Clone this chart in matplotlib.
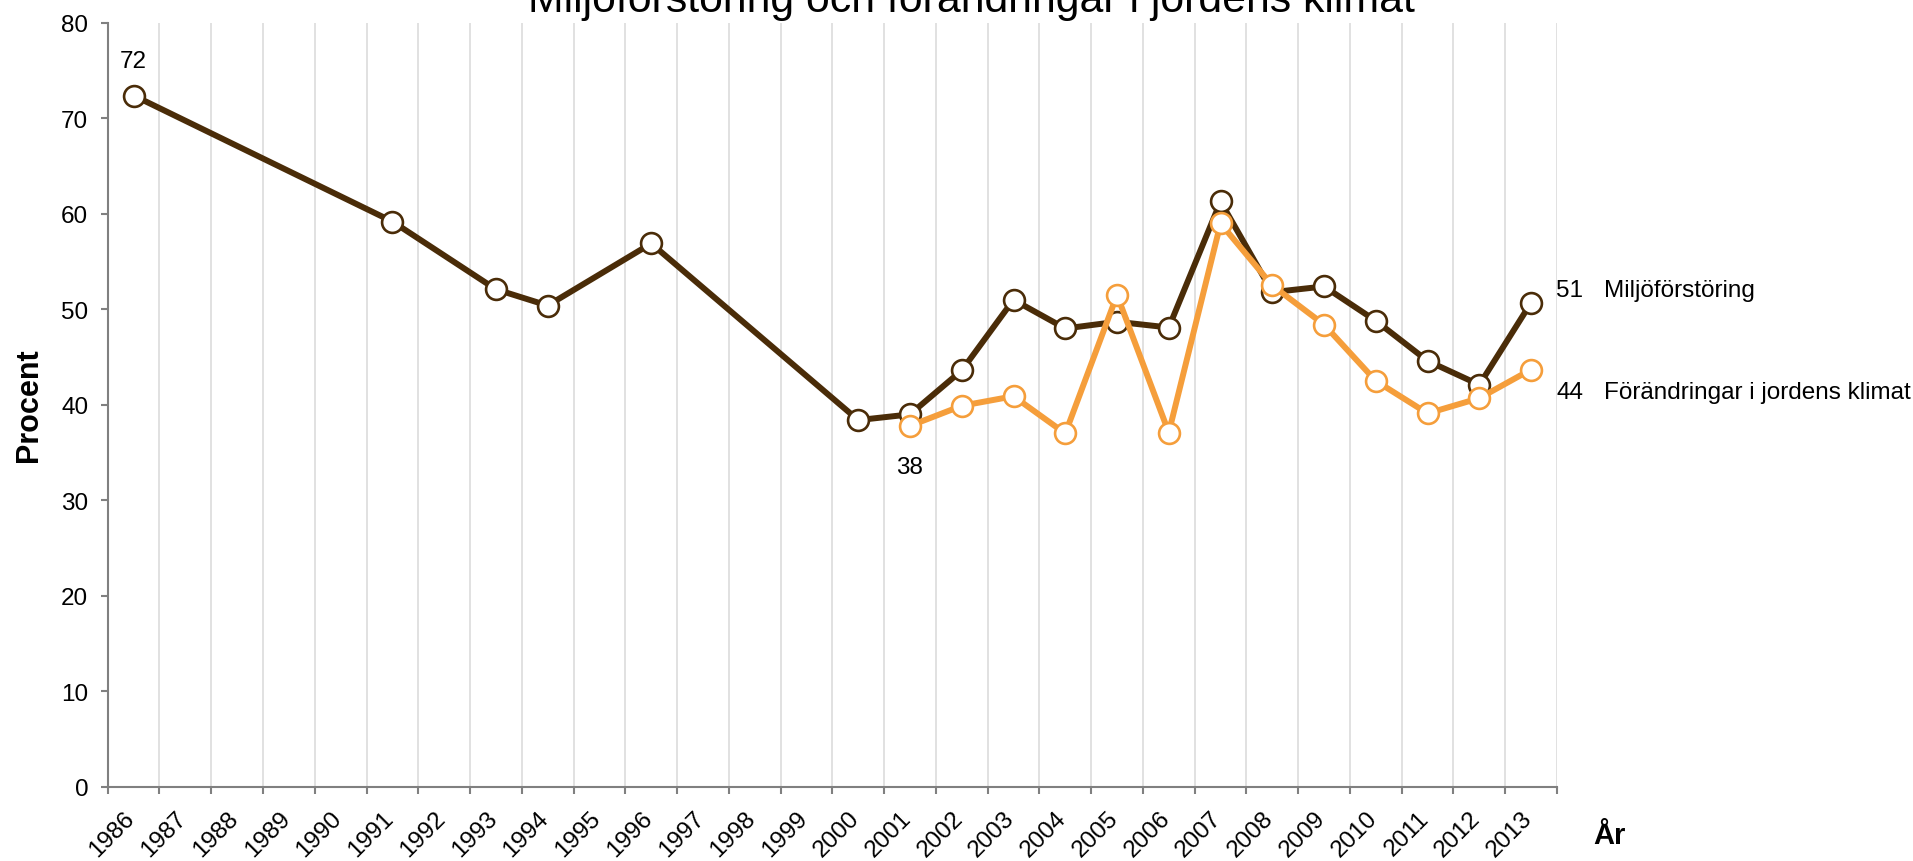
import numpy as np
import matplotlib
matplotlib.use("Agg")
import matplotlib.pyplot as plt
from matplotlib import font_manager
from matplotlib.transforms import offset_copy

# the chart text is narrow and tall; use the narrow face if it is there
names = {f.name for f in font_manager.fontManager.ttflist}
if 'Liberation Sans Narrow' in names:
    txt_family = ['Liberation Sans Narrow', 'DejaVu Sans']
    k = 1 / 0.82
else:
    txt_family = ['Liberation Sans', 'DejaVu Sans']
    k = 1.0
plt.rcParams['font.family'] = txt_family

##---------------------------##
##----------- DATA ----------##
##---------------------------##
years = list(range(1986, 2014))

milj_years  = [1986, 1991, 1993, 1994, 1996, 2000, 2001, 2002, 2003, 2004,
               2005, 2006, 2007, 2008, 2009, 2010, 2011, 2012, 2013]
milj_values = [72.4, 59.2, 52.1, 50.4, 56.9, 38.4, 39.0, 43.6, 51.0, 48.0,
               48.7, 48.1, 61.3, 51.8, 52.4, 48.8, 44.6, 42.1, 50.7]

klim_years  = [2001, 2002, 2003, 2004, 2005, 2006, 2007, 2008, 2009, 2010,
               2011, 2012, 2013]
klim_values = [37.8, 39.9, 40.9, 37.0, 51.5, 37.1, 59.0, 52.5, 48.4, 42.5,
               39.1, 40.7, 43.7]

yticks = [0, 10, 20, 30, 40, 50, 60, 70, 80]

title     = "Miljöförstöring och förändringar i jordens klimat"
milj_name = "Miljöförstöring"
klim_name = "Förändringar i jordens klimat"

dark   = '#4a2c08'
orange = '#f59e3b'
grid_c = '#d9d9d9'
axis_c = '#808080'

fs = 17.5 * k      # ticks and data labels

##---------------------------##
##---------- FIGURE ---------##
##---------------------------##
fig = plt.figure(figsize=(19.13, 8.62), dpi=100)
ax = fig.add_axes([0.0563, 0.0862, 0.8139 - 0.0563, 0.9722 - 0.0862])

# categories are the year intervals, points sit in the middle of them
def xpos(yr_list):
    return np.array([years.index(y) for y in yr_list]) + 0.5

n = len(years)
ax.set_xlim(0, n)
ax.set_ylim(0, 80)

# vertical grid at category borders
for b in range(1, n + 1):
    ax.axvline(b, color=grid_c, lw=1.1, zorder=0)

ax.plot(xpos(milj_years), milj_values, color=dark, lw=4.3, marker='o',
        ms=15, mfc='white', mec=dark, mew=1.9, zorder=3, clip_on=False)
ax.plot(xpos(klim_years), klim_values, color=orange, lw=4.3, marker='o',
        ms=15, mfc='white', mec=orange, mew=1.9, zorder=4, clip_on=False)

# axes styling
for s in ['top', 'right']:
    ax.spines[s].set_visible(False)
for s in ['left', 'bottom']:
    ax.spines[s].set_color(axis_c)
    ax.spines[s].set_linewidth(1.5)

ax.set_yticks(yticks)
ax.set_yticklabels([str(v) for v in yticks], fontsize=fs)
ax.tick_params(axis='y', length=5, width=1.5, color=axis_c, pad=9)

ax.set_xticks(np.arange(0, n + 1))
ax.set_xticklabels([])
ax.tick_params(axis='x', length=5, width=1.5, color=axis_c)

# rotated year labels, ending at the category centre
trans = offset_copy(ax.get_xaxis_transform(), fig=fig, x=2, y=-32, units='dots')
for i, yr in enumerate(years):
    ax.text(i + 0.5, 0, str(yr), transform=trans, rotation=45,
            rotation_mode='anchor', ha='right', va='baseline', fontsize=fs)

##---------------------------##
##--------- LABELS ----------##
##---------------------------##
ax.annotate(f"{milj_values[0]:.0f}", (xpos(milj_years)[0], milj_values[0]),
            xytext=(0, 35), textcoords='offset pixels', ha='center', va='center',
            fontsize=fs)
ax.annotate(f"{klim_values[0]:.0f}", (xpos(klim_years)[0], klim_values[0]),
            xytext=(0, -41), textcoords='offset pixels', ha='center', va='center',
            fontsize=fs)

last_m = (xpos(milj_years)[-1], milj_values[-1])
last_k = (xpos(klim_years)[-1], klim_values[-1])
ax.annotate(f"{milj_values[-1]:.0f}", last_m, xytext=(25, 13), textcoords='offset pixels',
            ha='left', va='center', fontsize=fs, annotation_clip=False)
ax.annotate(milj_name, last_m, xytext=(73, 13), textcoords='offset pixels',
            ha='left', va='center', fontsize=fs, annotation_clip=False)
ax.annotate(f"{klim_values[-1]:.0f}", last_k, xytext=(25, -22), textcoords='offset pixels',
            ha='left', va='center', fontsize=fs, annotation_clip=False)
ax.annotate(klim_name, last_k, xytext=(73, -22), textcoords='offset pixels',
            ha='left', va='center', fontsize=fs, annotation_clip=False)

fig.text(0.508, 1 - 12 / 862, title, ha='center', va='baseline', fontsize=30.8 * k)
fig.text(29 / 1913, 1 - 405 / 862, "Procent", rotation=90, ha='center', va='center',
         fontsize=22, fontweight='bold', family=['Liberation Sans', 'DejaVu Sans'])
fig.text(1609 / 1913, 1 - 836 / 862, "År", ha='center', va='center',
         fontsize=21 * k, fontweight='bold')

fig.savefig('out.png', dpi=100)
